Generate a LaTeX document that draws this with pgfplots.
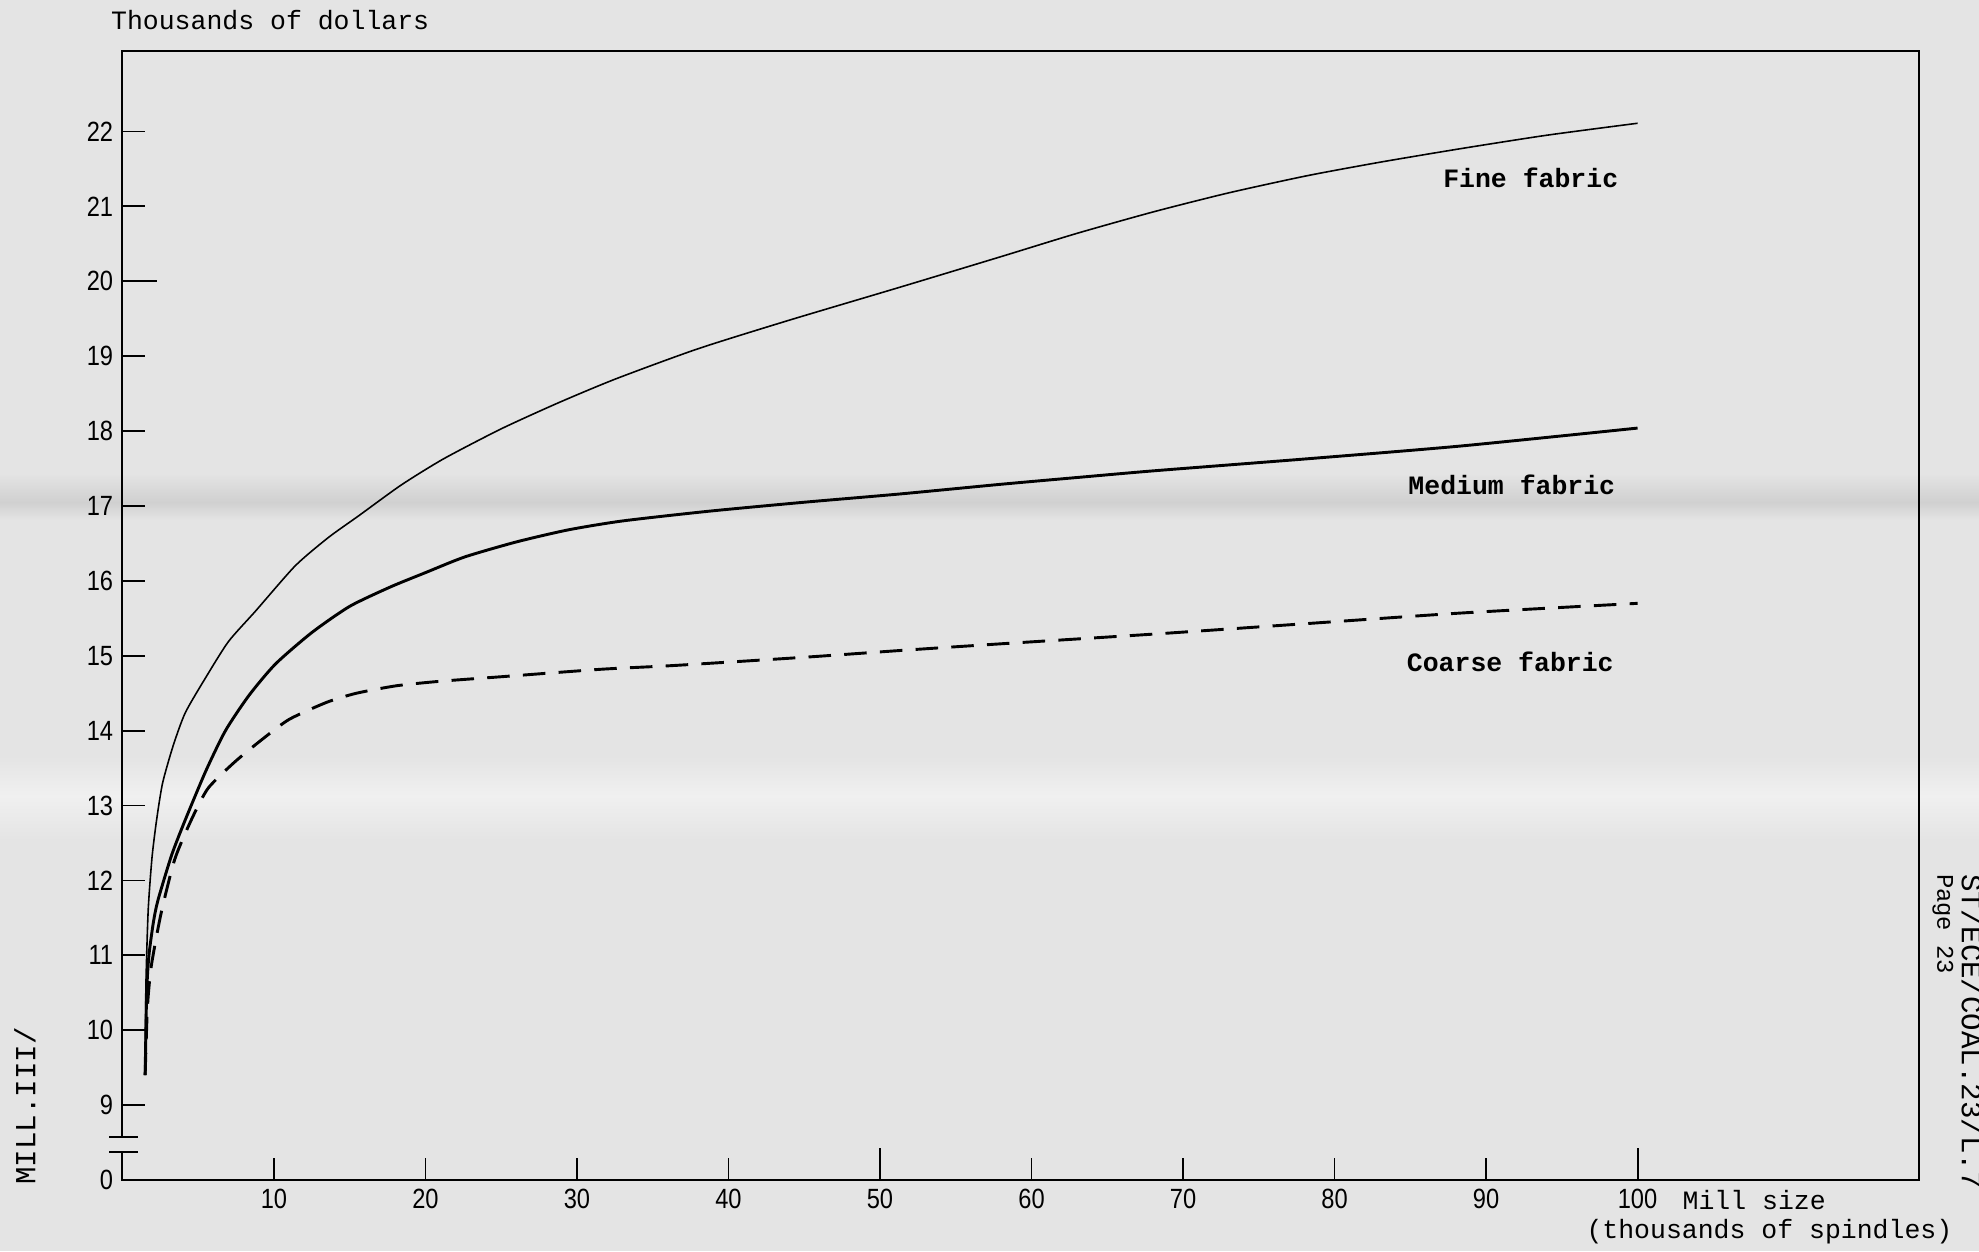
\documentclass[border=0pt]{standalone}
\usepackage{pgfplots}
\pgfplotsset{compat=1.18}
\usepackage{fontspec}
\setmainfont{Liberation Mono}
\newfontfamily\tickfont[FakeStretch=0.85]{Liberation Sans}
\definecolor{paper}{RGB}{228,228,228}
\definecolor{band}{RGB}{208,208,208}
\definecolor{light}{RGB}{240,240,240}
\begin{document}
\begin{tikzpicture}
% scanned page background with its darker and lighter bands
\fill[paper] (-46.2pt,-26.8pt) rectangle (700.6pt,445.3pt);
\shade[top color=paper, bottom color=band] (-46.2pt,266.7pt) rectangle (700.6pt,255.8pt);
\shade[top color=band, bottom color=paper] (-46.2pt,255.8pt) rectangle (700.6pt,249.1pt);
\shade[top color=paper, bottom color=light] (-46.2pt,160pt) rectangle (700.6pt,145pt);
\shade[top color=light, bottom color=paper] (-46.2pt,145pt) rectangle (700.6pt,128pt);
\begin{axis}[
    scale only axis,
    width=678.1pt, height=426.2pt,
    xmin=0, xmax=118.6,
    ymin=8, ymax=23.08,
    axis line style={line width=0.8pt},
    xtick={10,20,...,100},
    ytick={8,9,...,22},
    yticklabels={0,9,10,11,12,13,14,15,16,17,18,19,20,21,22},
    xtick pos=bottom, ytick pos=left,
    tick align=inside,
    major tick length=8.5pt,
    tick style={line width=0.7pt, black},
    extra x ticks={50,100},
    extra x tick labels={},
    extra x tick style={major tick length=12pt},
    extra y ticks={20},
    extra y tick labels={},
    extra y tick style={major tick length=13pt},
    ticklabel style={font=\tickfont\fontsize{10.5}{10.5}\selectfont},
    /pgf/number format/assume math mode=true,
    clip=false,
]
% Fine fabric
\addplot[black, line width=0.6pt, smooth, tension=0.4] coordinates {
    (1.5,9.4) (1.55,10.6) (1.7,11.6) (1.95,12.3) (2.25,12.8) (2.65,13.3)
    (3.35,13.8) (4.15,14.24) (5.5,14.71) (7.0,15.19) (8.8,15.6) (11.4,16.2)
    (13.6,16.58) (15.6,16.87) (18.4,17.28) (21.2,17.63) (25,18.03) (28.8,18.38)
    (32.6,18.7) (38,19.1) (44,19.48) (51.3,19.92) (58,20.33) (63,20.64)
    (68.1,20.93) (73,21.18) (78.2,21.41) (83,21.59) (88.3,21.77) (94,21.95)
    (100,22.11)
};
% Medium fabric
\addplot[black, line width=1.1pt, smooth, tension=0.4] coordinates {
    (1.5,9.4) (1.6,10.5) (1.75,11.0) (2.05,11.45) (2.35,11.74) (3.25,12.34)
    (4.15,12.81) (5.5,13.46) (6.8,14.0) (8.35,14.47) (10.1,14.89) (12.5,15.31)
    (15,15.66) (17.7,15.92) (20,16.11) (22.6,16.32) (26,16.52) (29.4,16.68)
    (33,16.8) (38.7,16.93) (45,17.05) (51.3,17.16) (58,17.29) (63,17.38)
    (68.1,17.47) (78.2,17.63) (88.3,17.8) (100,18.04)
};
% Coarse fabric
\addplot[black, line width=1.1pt, dash pattern=on 8.5pt off 5pt, smooth, tension=0.4] coordinates {
    (1.5,9.4) (1.65,10.3) (1.9,10.85) (2.55,11.56) (3.45,12.28) (4.55,12.81)
    (5.65,13.23) (7.4,13.58) (9.2,13.88) (11,14.15) (13.5,14.38)
    (15.45,14.5) (18.1,14.6) (21,14.66) (25,14.72) (31.6,14.82) (36.4,14.87)
    (45,14.98) (51.3,15.07) (58,15.16) (68.1,15.29) (78.2,15.43) (88.3,15.57)
    (100,15.7)
};
\node[font=\bfseries] at (axis cs:92.95,21.38) {Fine fabric};
\node[font=\bfseries] at (axis cs:91.7,17.28) {Medium fabric};
\node[font=\bfseries] at (axis cs:91.6,14.92) {Coarse fabric};
\node at (axis cs:107.7,7.73) {Mill size};
\node at (axis cs:108.7,7.31) {(thousands of spindles)};
\node[anchor=west] at ([xshift=-7.8pt,yshift=11.6pt]rel axis cs:0,1) {Thousands of dollars};
% axis break
\fill[paper] ([xshift=-1.5pt]axis cs:0,8.37) rectangle ([xshift=1.5pt]axis cs:0,8.58);
\draw[line width=0.8pt] ([xshift=-5pt]axis cs:0,8.58) -- ([xshift=6pt]axis cs:0,8.58);
\draw[line width=0.8pt] ([xshift=-5pt]axis cs:0,8.37) -- ([xshift=6pt]axis cs:0,8.37);
\end{axis}
% margin notes of the scanned page
\node[rotate=90, font=\fontsize{11}{11}\selectfont] at (-36.8pt,27.9pt) {MILL.III/};
\node[rotate=-90, anchor=south west, font=\fontsize{9}{9}\selectfont] at (679.5pt,119pt) {Page 23};
\node[rotate=-90, anchor=south west, font=\fontsize{11}{11}\selectfont] at (690.5pt,119pt) {ST/ECE/COAL.23/L.7};
\pgfresetboundingbox
\path[use as bounding box] (-46.2pt,-26.8pt) rectangle (700.6pt,445.3pt);
\end{tikzpicture}
\end{document}
